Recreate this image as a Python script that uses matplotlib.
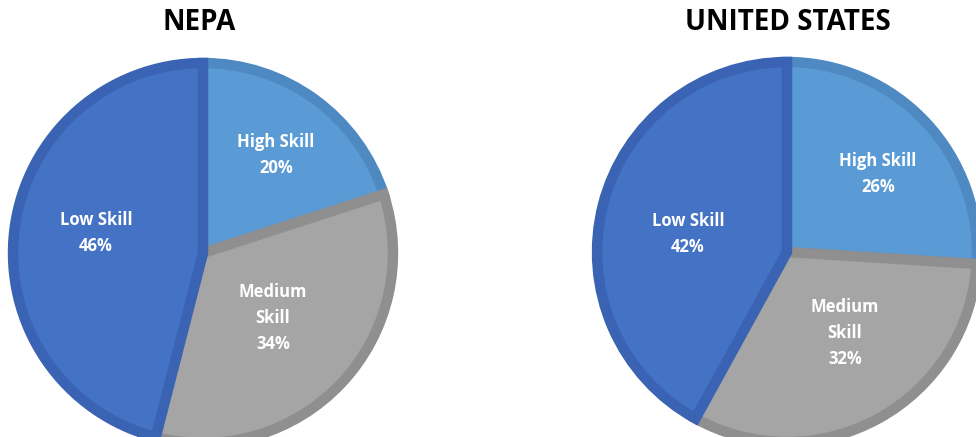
import numpy as np
import matplotlib
matplotlib.use("Agg")
import matplotlib.pyplot as plt

# Share of jobs by skill level
skills = ["High Skill", "Medium Skill", "Low Skill"]
label_text = ["High Skill", "Medium\nSkill", "Low Skill"]
nepa = [20, 34, 46]
usa = [26, 32, 42]

fills = ["#5B9BD5", "#A5A5A5", "#4472C4"]
edges = ["#4E89C2", "#8F8F8F", "#3A63B3"]

# label anchors (pixels from top-left), one per slice
nepa_label_xy = [(276, 155), (273, 318), (96, 233)]
usa_label_xy = [(878, 174), (845, 333), (688, 234)]

plt.rcParams["font.family"] = ["Open Sans", "DejaVu Sans"]

W, H = 976, 437
fig = plt.figure(figsize=(W / 100, H / 100), dpi=100)
ax = fig.add_axes([0, 0, 1, 1])


def draw_pie(values, center, radius, title, title_x, label_xy):
    cx, cy = center
    wedges, _ = ax.pie(values, center=(cx, H - cy), radius=radius,
                       startangle=90, counterclock=False, colors=fills,
                       wedgeprops=dict(linewidth=7.5, edgecolor="none"))
    for w, ec, val, txt, (lx, ly) in zip(wedges, edges, values, label_text, label_xy):
        # border drawn inside each slice only
        w.set_edgecolor(ec)
        w.set_clip_path(w)
        ax.text(lx, H - ly, f"{txt}\n{val}%", ha="center", va="center",
                color="white", fontsize=12, fontweight="bold",
                linespacing=1.55)
    ax.text(title_x, H - 23, title, ha="center", va="center",
            fontsize=20, fontweight="bold", color="black")


draw_pie(nepa, (203, 253), 190, "NEPA", 199, nepa_label_xy)
draw_pie(usa, (787, 252), 190, "UNITED STATES", 788, usa_label_xy)

ax.set_xlim(0, W)
ax.set_ylim(0, H)
ax.set_aspect("equal")
ax.axis("off")

fig.savefig("out.png", dpi=100, facecolor="white")
